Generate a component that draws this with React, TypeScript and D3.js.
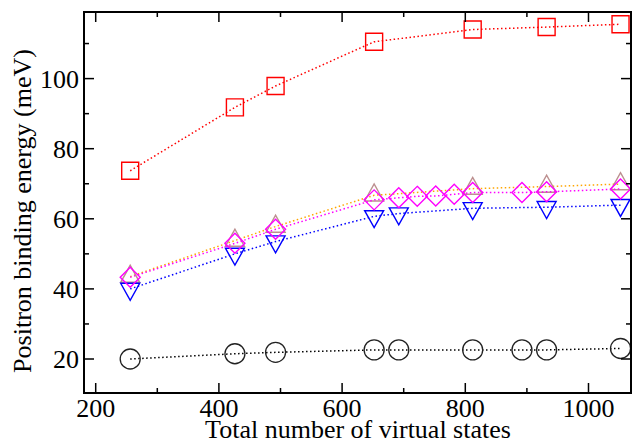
import React from 'react';
import { scaleLinear, line } from 'd3';

// x values (total number of virtual states) for each series
const statesAll = [256, 426, 492, 652, 692, 812, 892, 932, 1052];
const statesMain = [256, 426, 492, 652, 812, 932, 1052];
const statesBlue = [256, 426, 492, 652, 692, 812, 932, 1052];
const statesDiamond = [256, 426, 492, 652, 692, 722, 752, 782, 812, 892, 932, 1052];

// binding energies (meV)
const circleVals = [20.0, 21.5, 21.9, 22.6, 22.6, 22.6, 22.6, 22.6, 23.0];
const squareVals = [73.7, 91.8, 97.9, 110.5, 114.0, 114.7, 115.5];
const triDownVals = [40.0, 50.0, 53.5, 60.7, 61.5, 63.0, 63.3, 63.9];
const triUpVals = [43.5, 53.8, 57.8, 66.7, 68.6, 69.2, 69.9];
const diamondVals = [43.3, 53.0, 57.0, 65.4, 66.0, 66.4, 66.5, 67.0, 67.5, 67.5, 67.7, 68.5];

const xMajor = [200, 400, 600, 800, 1000];
const xMinor = [300, 500, 700, 900];
const yMajor = [20, 40, 60, 80, 100];
const yMinor = [30, 50, 70, 90, 110];

type Shape = 'circle' | 'square' | 'triDown' | 'triUp' | 'diamond';

interface Series {
  xs: number[];
  ys: number[];
  shape: Shape;
  color: string;
  lineColor: string;
}

const series: Series[] = [
  { xs: statesAll, ys: circleVals, shape: 'circle', color: '#222222', lineColor: '#000000' },
  { xs: statesMain, ys: squareVals, shape: 'square', color: '#ff0000', lineColor: '#ff0000' },
  { xs: statesMain, ys: triUpVals, shape: 'triUp', color: '#bc8f8f', lineColor: '#ffa500' },
  { xs: statesBlue, ys: triDownVals, shape: 'triDown', color: '#0000ff', lineColor: '#0000ff' },
  { xs: statesDiamond, ys: diamondVals, shape: 'diamond', color: '#ff00ff', lineColor: '#ff00ff' },
];

function symbolPath(shape: Shape, cx: number, cy: number) {
  switch (shape) {
    case 'square': {
      const s = 8.5;
      return `M${cx - s},${cy - s}H${cx + s}V${cy + s}H${cx - s}Z`;
    }
    case 'diamond': {
      const s = 10;
      return `M${cx},${cy - s}L${cx + s},${cy}L${cx},${cy + s}L${cx - s},${cy}Z`;
    }
    case 'triDown': {
      const w = 9.5, h = 17;
      return `M${cx - w},${cy - h / 3}H${cx + w}L${cx},${cy + (2 * h) / 3}Z`;
    }
    case 'triUp': {
      const w = 9.5, h = 17;
      return `M${cx - w},${cy + h / 3}H${cx + w}L${cx},${cy - (2 * h) / 3}Z`;
    }
    default:
      return '';
  }
}

export default function App() {
  const W = 632;
  const H = 444;
  const left = 84, right = 631, top = 12, bottom = 393;

  const x = scaleLinear().domain([181, 1069]).range([left, right]);
  const y = scaleLinear().domain([10.3, 119]).range([bottom, top]);

  const font = '"Liberation Serif", "Times New Roman", serif';

  return (
    <svg
      width={W}
      height={H}
      style={{ position: 'absolute', left: 0, top: 0, background: '#fff' }}
    >
      {/* series */}
      {series.map((s, i) => {
        const pts = s.xs.map((v, j) => [x(v), y(s.ys[j])] as [number, number]);
        const path = line()(pts) || '';
        return (
          <g key={`s-${i}`}>
            <path
              d={path}
              fill="none"
              stroke={s.lineColor}
              strokeWidth={1.5}
              strokeDasharray="1.5 2.5"
            />
            {pts.map(([px, py], j) =>
              s.shape === 'circle' ? (
                <circle
                  key={j}
                  cx={px}
                  cy={py}
                  r={10}
                  fill="none"
                  stroke={s.color}
                  strokeWidth={1.3}
                />
              ) : (
                <path
                  key={j}
                  d={symbolPath(s.shape, px, py)}
                  fill="none"
                  stroke={s.color}
                  strokeWidth={1.4}
                />
              )
            )}
          </g>
        );
      })}

      {/* frame */}
      <rect
        x={left}
        y={top}
        width={right - left}
        height={bottom - top}
        fill="none"
        stroke="#000"
        strokeWidth={2}
      />

      {/* x ticks */}
      {xMajor.map((t) => (
        <g key={`xm-${t}`}>
          <line x1={x(t)} x2={x(t)} y1={bottom} y2={bottom - 10} stroke="#000" strokeWidth={1.5} />
          <line x1={x(t)} x2={x(t)} y1={top} y2={top + 10} stroke="#000" strokeWidth={1.5} />
          <text
            x={x(t)}
            y={417}
            textAnchor="middle"
            fontFamily={font}
            fontSize={26}
          >
            {t}
          </text>
        </g>
      ))}
      {xMinor.map((t) => (
        <g key={`xn-${t}`}>
          <line x1={x(t)} x2={x(t)} y1={bottom} y2={bottom - 5} stroke="#000" strokeWidth={1.5} />
          <line x1={x(t)} x2={x(t)} y1={top} y2={top + 5} stroke="#000" strokeWidth={1.5} />
        </g>
      ))}

      {/* y ticks */}
      {yMajor.map((t) => (
        <g key={`ym-${t}`}>
          <line x1={left} x2={left + 10} y1={y(t)} y2={y(t)} stroke="#000" strokeWidth={1.5} />
          <line x1={right} x2={right - 10} y1={y(t)} y2={y(t)} stroke="#000" strokeWidth={1.5} />
          <text
            x={79}
            y={y(t) + 9}
            textAnchor="end"
            fontFamily={font}
            fontSize={26}
          >
            {t}
          </text>
        </g>
      ))}
      {yMinor.map((t) => (
        <g key={`yn-${t}`}>
          <line x1={left} x2={left + 5} y1={y(t)} y2={y(t)} stroke="#000" strokeWidth={1.5} />
          <line x1={right} x2={right - 5} y1={y(t)} y2={y(t)} stroke="#000" strokeWidth={1.5} />
        </g>
      ))}

      {/* axis titles */}
      <text
        x={358}
        y={438}
        textAnchor="middle"
        fontFamily={font}
        fontSize={26}
      >
        Total number of virtual states
      </text>
      <text
        transform={`translate(31, 211) rotate(-90)`}
        textAnchor="middle"
        fontFamily={font}
        fontSize={26}
      >
        Positron binding energy (meV)
      </text>
    </svg>
  );
}
